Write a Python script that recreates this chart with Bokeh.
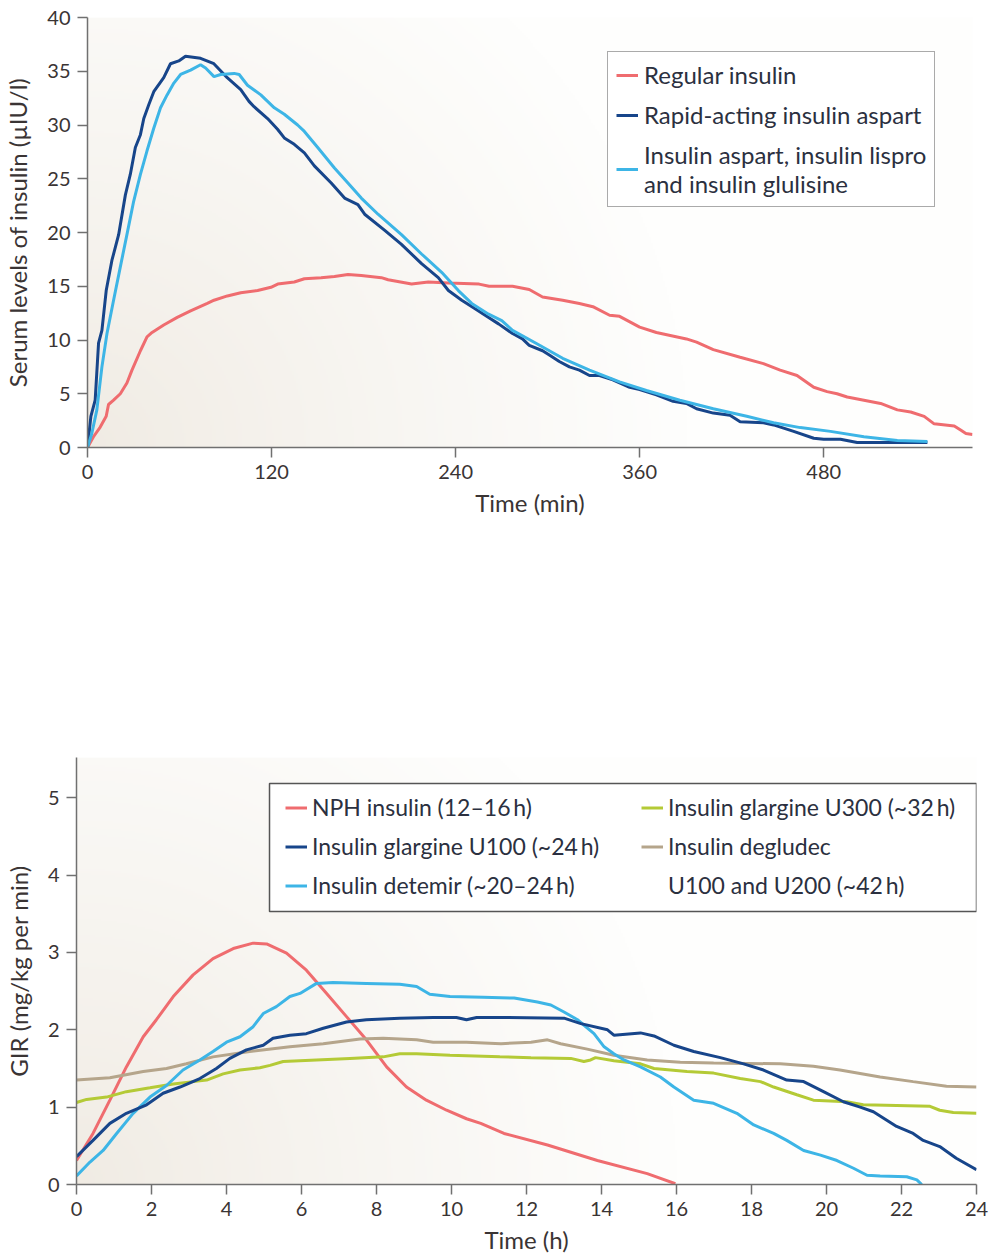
import numpy as np
from bokeh.plotting import figure
from bokeh.models import Legend, LegendItem, Range1d, FixedTicker, BoxAnnotation
from bokeh.layouts import column, row
from bokeh.embed import file_html
from bokeh.resources import INLINE

# ---------------- Top chart data (time in min, serum insulin µIU/l) ----------------
regular_t = [0, 3.9, 8.3, 12.2, 13.7, 17, 21.4, 25.7, 29, 34.5, 38.8, 42.1, 49.7, 58.5, 67.2, 78.1,
             82.5, 91.2, 99.9, 110.9, 119.6, 124, 134.8, 141.4, 152.3, 161, 169.8, 178.5, 191.6, 196,
             211.3, 222.2, 235.3, 255.3, 261.8, 277.1, 288, 296.7, 309.8, 320.7, 329.5, 340.4, 346.9,
             360, 370.9, 390.5, 397.1, 408, 425.5, 440.7, 451.6, 462.6, 473.5, 482.2, 488.7, 495.3,
             506.2, 517.1, 528, 536.7, 545.5, 552, 565.1, 569.5, 572.7, 577]
regular_v = [0, 1.0, 1.9, 2.9, 4.0, 4.4, 5.0, 6.0, 7.2, 9.0, 10.3, 10.7, 11.4, 12.1, 12.7, 13.4,
             13.7, 14.1, 14.4, 14.6, 14.9, 15.2, 15.4, 15.7, 15.8, 15.9, 16.1, 16.0, 15.8, 15.6,
             15.2, 15.4, 15.3, 15.2, 15.0, 15.0, 14.7, 14.0, 13.7, 13.4, 13.1, 12.3, 12.2,
             11.2, 10.7, 10.1, 9.8, 9.1, 8.4, 7.8, 7.2, 6.7, 5.6, 5.2, 5.0, 4.7,
             4.4, 4.1, 3.5, 3.3, 2.9, 2.2, 2.0, 1.6, 1.3, 1.2]

aspart_t = [0, 2.2, 5, 7.2, 9.4, 12.2, 15.9, 20.3, 24.7, 27.9, 31.2, 34.5, 36.7, 40, 43.2, 49.7,
            54.1, 59.5, 63.9, 73.7, 82.4, 91.1, 99.9, 105.3, 108.6, 117.4, 123.9, 128.3, 134.8,
            141.4, 147.9, 158.9, 167.6, 176.3, 180.7, 193.8, 204.7, 217.8, 228.7, 235.3, 244,
            252.7, 261.5, 268, 277.1, 283.6, 288, 296.7, 301.1, 307.6, 314.2, 320.7, 327.3, 333.8,
            342.5, 353.5, 360, 370.9, 381.8, 390.5, 397.1, 408, 418.9, 425.5, 440.7, 447.3, 460.4,
            473.5, 480, 490.9, 501.8, 547.6]
aspart_v = [0, 2.9, 4.4, 9.7, 10.9, 14.6, 17.4, 19.8, 23.5, 25.4, 27.9, 29.1, 30.6, 31.9, 33.1, 34.4,
            35.7, 35.96, 36.4, 36.2, 35.7, 34.4, 33.3, 32.2, 31.7, 30.6, 29.6, 28.8, 28.2,
            27.4, 26.2, 24.6, 23.2, 22.6, 21.7, 20.2, 18.9, 17.1, 15.8, 14.6, 13.7,
            12.9, 12.1, 11.5, 10.6, 10.1, 9.5, 9.0, 8.6, 8.0, 7.5, 7.2, 6.7, 6.7,
            6.3, 5.6, 5.4, 4.9, 4.3, 4.1, 3.6, 3.2, 3.0, 2.4, 2.3, 2.1, 1.5,
            0.86, 0.77, 0.77, 0.46, 0.46]

analog_t = [0, 2.8, 6.1, 9.4, 12.7, 17, 21.4, 25.7, 30.1, 34.5, 38.8, 43.2, 47.6, 51.9, 56.3, 60.7,
            67.2, 73.7, 77, 82.5, 86.8, 95.6, 98.9, 104.3, 113, 121.8, 128.3, 137, 141.4, 150.1,
            161, 169.8, 178.5, 189.4, 204.7, 217.8, 230.9, 241.8, 250.5, 261.5, 270.1, 277.1,
            292.4, 309.8, 327.3, 346.9, 364.4, 386.2, 408, 429.8, 447.3, 464.7, 484.4, 506.2,
            528, 547.6]
analog_v = [0, 1.3, 3.5, 7.5, 10.6, 13.7, 16.8, 19.8, 22.9, 25.4, 27.6, 29.7, 31.6, 32.8, 33.9, 34.7,
            35.1, 35.6, 35.3, 34.5, 34.7, 34.8, 34.7, 33.7, 32.8, 31.6, 31.0, 30.0, 29.4, 27.9,
            26.0, 24.6, 23.2, 21.7, 19.8, 18.0, 16.3, 14.6, 13.4, 12.4, 11.8, 10.9,
            9.7, 8.3, 7.2, 6.1, 5.3, 4.4, 3.6, 2.9, 2.3, 1.85, 1.5, 1.0,
            0.65, 0.56]

top_x_ticks = [0, 120, 240, 360, 480]
top_y_ticks = [0, 5, 10, 15, 20, 25, 30, 35, 40]

# ---------------- Bottom chart data (time in h, GIR mg/kg per min) ----------------
nph_t = [0, 0.44, 0.89, 1.33, 1.78, 2.13, 2.58, 3.11, 3.64, 4.18, 4.71, 5.07, 5.6, 6.13, 6.67, 7.2,
         7.73, 8.27, 8.8, 9.33, 9.87, 10.4, 10.78, 11.4, 12.56, 13.89, 15.22, 15.97]
nph_v = [0.31, 0.66, 1.09, 1.52, 1.91, 2.13, 2.43, 2.71, 2.92, 3.05, 3.12, 3.11, 2.99, 2.77, 2.47, 2.17,
         1.87, 1.52, 1.26, 1.09, 0.96, 0.85, 0.79, 0.66, 0.51, 0.31, 0.14, 0.01]

u100_t = [0, 0.44, 0.89, 1.33, 1.87, 2.31, 2.76, 3.29, 3.73, 4.09, 4.53, 4.98, 5.24, 5.69, 6.13, 6.58,
          7.2, 7.73, 8.62, 9.51, 10.13, 10.4, 10.67, 11.29, 13.0, 13.45, 14.16, 14.33, 15.04, 15.4,
          15.93, 16.46, 17.17, 17.79, 18.32, 18.94, 19.39, 19.92, 20.45, 20.9, 21.25, 21.87, 22.31,
          22.58, 23.02, 23.46, 24.0]
u100_v = [0.36, 0.57, 0.79, 0.92, 1.03, 1.18, 1.26, 1.37, 1.5, 1.63, 1.74, 1.8, 1.89, 1.93, 1.95, 2.02,
          2.1, 2.13, 2.15, 2.16, 2.16, 2.13, 2.16, 2.16, 2.15, 2.08, 2.0, 1.93, 1.96, 1.92,
          1.8, 1.72, 1.64, 1.56, 1.48, 1.35, 1.33, 1.2, 1.07, 1.0, 0.94, 0.75, 0.66,
          0.57, 0.49, 0.34, 0.19]

detemir_t = [0, 0.36, 0.71, 1.07, 1.51, 1.96, 2.4, 2.84, 3.29, 3.64, 4.0, 4.36, 4.71, 4.98, 5.33, 5.69,
             5.96, 6.4, 6.84, 7.73, 8.62, 9.07, 9.42, 9.96, 10.84, 11.67, 12.29, 12.65, 13.0, 13.36,
             13.8, 14.07, 14.33, 14.6, 15.04, 15.57, 15.93, 16.46, 16.99, 17.61, 18.06, 18.59, 18.94,
             19.39, 19.84, 20.28, 20.72, 21.08, 21.43, 22.14, 22.41, 22.54]
detemir_v = [0.11, 0.29, 0.44, 0.66, 0.92, 1.13, 1.28, 1.48, 1.61, 1.72, 1.84, 1.91, 2.04, 2.21, 2.3, 2.43,
             2.47, 2.6, 2.61, 2.6, 2.59, 2.56, 2.46, 2.43, 2.42, 2.41, 2.36, 2.32, 2.23, 2.13,
             1.95, 1.78, 1.69, 1.61, 1.52, 1.39, 1.26, 1.09, 1.05, 0.92, 0.77, 0.66, 0.57,
             0.44, 0.38, 0.31, 0.21, 0.12, 0.11, 0.1, 0.06, 0.0]

u300_t = [0, 0.27, 0.8, 1.33, 1.96, 2.58, 3.11, 3.47, 3.91, 4.36, 4.89, 5.16, 5.51, 6.4, 7.29, 8.18,
          8.62, 9.07, 9.96, 11.29, 12.12, 13.18, 13.53, 13.71, 13.84, 14.33, 15.04, 15.4, 16.28,
          16.99, 17.7, 18.24, 18.59, 19.21, 19.65, 20.54, 20.98, 22.76, 23.02, 23.38, 24.0]
u300_v = [1.06, 1.1, 1.13, 1.2, 1.25, 1.3, 1.33, 1.35, 1.43, 1.48, 1.51, 1.54, 1.59, 1.61, 1.63, 1.65,
          1.69, 1.69, 1.67, 1.65, 1.64, 1.63, 1.59, 1.61, 1.64, 1.6, 1.56, 1.5, 1.46,
          1.44, 1.37, 1.33, 1.26, 1.16, 1.09, 1.07, 1.03, 1.01, 0.96, 0.93, 0.92]

degludec_t = [0, 0.89, 1.78, 2.4, 2.93, 3.64, 4.62, 5.69, 6.58, 7.56, 8.18, 9.07, 9.51, 10.4, 11.32,
              12.12, 12.56, 12.91, 13.62, 14.33, 15.22, 16.1, 16.99, 18.77, 19.65, 20.36, 21.43,
              22.31, 23.2, 24.0]
degludec_v = [1.35, 1.38, 1.46, 1.5, 1.56, 1.65, 1.72, 1.78, 1.82, 1.88, 1.89, 1.87, 1.84, 1.84, 1.82,
              1.84, 1.87, 1.82, 1.75, 1.67, 1.61, 1.58, 1.57, 1.56, 1.53, 1.48, 1.39,
              1.33, 1.27, 1.26]

bot_x_ticks = list(range(0, 25, 2))
bot_y_ticks = [0, 1, 2, 3, 4, 5]

# ---------------- styling ----------------
FONT = "Lato"
RED = "#ef6c6f"
NAVY = "#17458a"
LIGHT = "#3db5e6"
GREEN = "#b4ca36"
TAN = "#b5a58b"
TEXT = "#3a3434"
LEGTEXT = "#2b3040"
AXIS = "#707070"
BORDER = "#555555"


def gradient_rgba(nx, ny, w_px, h_px):
    xs = (np.arange(nx) + 0.5) / nx * w_px
    ys = (np.arange(ny) + 0.5) / ny * h_px
    X, Y = np.meshgrid(xs, ys)
    d = np.sqrt(X ** 2 + Y ** 2)
    t = np.clip(d / 600.0, 0, 1) ** 0.85
    c0 = np.array([240, 235, 227], dtype=float)
    c1 = np.array([254, 254, 253], dtype=float)
    r = (c0[0] * (1 - t) + c1[0] * t).astype(np.uint32)
    g = (c0[1] * (1 - t) + c1[1] * t).astype(np.uint32)
    b = (c0[2] * (1 - t) + c1[2] * t).astype(np.uint32)
    img = (255 << 24) | (b << 16) | (g << 8) | r
    return img.astype(np.uint32)


def style(p, xticks, yticks, xlabel, ylabel, ystand):
    p.outline_line_color = None
    p.xgrid.visible = False
    p.ygrid.visible = False
    p.background_fill_color = "white"
    p.border_fill_color = "white"
    for ax in (p.xaxis[0], p.yaxis[0]):
        ax.axis_line_color = AXIS
        ax.axis_line_width = 1.5
        ax.major_tick_line_color = AXIS
        ax.major_tick_line_width = 1.5
        ax.major_tick_in = 0
        ax.major_tick_out = 10
        ax.minor_tick_line_color = None
        ax.major_label_text_font = FONT
        ax.major_label_text_font_size = "20px"
        ax.major_label_text_color = TEXT
        ax.major_label_standoff = 7
        ax.axis_label_text_font = FONT
        ax.axis_label_text_font_size = "24px"
        ax.axis_label_text_font_style = "normal"
        ax.axis_label_text_color = TEXT
    p.xaxis[0].ticker = FixedTicker(ticks=xticks)
    p.yaxis[0].ticker = FixedTicker(ticks=yticks)
    p.xaxis[0].axis_label = xlabel
    p.yaxis[0].axis_label = ylabel
    p.xaxis[0].axis_label_standoff = 6
    p.yaxis[0].axis_label_standoff = ystand


def style_legend(leg, size, lh, spacing, padding, boxed):
    leg.label_text_font = FONT
    leg.label_text_font_size = size
    leg.label_text_color = LEGTEXT
    leg.glyph_width = 22
    leg.glyph_height = lh
    leg.label_height = lh
    leg.label_standoff = 5
    leg.spacing = spacing
    leg.padding = padding
    leg.margin = 0
    if boxed:
        leg.border_line_color = BORDER
        leg.border_line_width = 1.5
        leg.background_fill_color = "white"
        leg.background_fill_alpha = 1
    else:
        leg.border_line_color = None
        leg.background_fill_alpha = 0


# ---------------- top figure ----------------
p1 = figure(frame_width=885, frame_height=430, min_border_left=87, min_border_right=22,
            min_border_top=17, min_border_bottom=73, output_backend="svg", toolbar_location=None,
            x_range=Range1d(0, 577), y_range=Range1d(0, 40))
p1.image_rgba(image=[gradient_rgba(443, 215, 885, 430)], x=0, y=0, dw=577, dh=40)
r_reg = p1.line(regular_t, regular_v, line_color=RED, line_width=3)
r_asp = p1.line(aspart_t, aspart_v, line_color=NAVY, line_width=3)
r_ana = p1.line(analog_t, analog_v, line_color=LIGHT, line_width=3)
style(p1, top_x_ticks, top_y_ticks, "Time (min)", "Serum levels of insulin (µIU/l)", 12)

leg1 = Legend(items=[
    LegendItem(label="Regular insulin", renderers=[r_reg]),
    LegendItem(label="Rapid-acting insulin aspart", renderers=[r_asp]),
    LegendItem(label="Insulin aspart, insulin lispro\nand insulin glulisine", renderers=[r_ana]),
], location=(520, 240))
style_legend(leg1, "24px", 24, 11, 8, True)
leg1.label_standoff = 6
p1.add_layout(leg1)

# ---------------- bottom figure ----------------
p2 = figure(frame_width=900, frame_height=427, min_border_left=76, min_border_right=18,
            min_border_top=37, min_border_bottom=76, output_backend="svg", toolbar_location=None,
            x_range=Range1d(0, 24), y_range=Range1d(0, 5.52))
p2.image_rgba(image=[gradient_rgba(450, 214, 900, 427)], x=0, y=0, dw=24, dh=5.52)
r_nph = p2.line(nph_t, nph_v, line_color=RED, line_width=3)
r_deg = p2.line(degludec_t, degludec_v, line_color=TAN, line_width=3)
r_u300 = p2.line(u300_t, u300_v, line_color=GREEN, line_width=3)
r_det = p2.line(detemir_t, detemir_v, line_color=LIGHT, line_width=3)
r_u100 = p2.line(u100_t, u100_v, line_color=NAVY, line_width=3)
r_blank = p2.line([], [], line_alpha=0)
style(p2, bot_x_ticks, bot_y_ticks, "Time (h)", "GIR (mg/kg per min)", 12)

# legend frame (decorative box behind the two legend columns)
p2.add_layout(BoxAnnotation(left=5.147, right=24, bottom=3.529, top=5.184,
                            fill_color="white", fill_alpha=1,
                            line_color=BORDER, line_width=1.5, line_alpha=1))

leg2a = Legend(items=[
    LegendItem(label="NPH insulin (12–16\u2009h)", renderers=[r_nph]),
    LegendItem(label="Insulin glargine U100 (~24\u2009h)", renderers=[r_u100]),
    LegendItem(label="Insulin detemir (~20–24\u2009h)", renderers=[r_det]),
], location=(209, 285))
style_legend(leg2a, "23px", 23, 11, 11, False)
p2.add_layout(leg2a)

leg2b = Legend(items=[
    LegendItem(label="Insulin glargine U300 (~32\u2009h)", renderers=[r_u300]),
    LegendItem(label="Insulin degludec", renderers=[r_deg]),
    LegendItem(label="U100 and U200 (~42\u2009h)", renderers=[r_blank]),
], location=(565, 285))
style_legend(leg2b, "23px", 23, 11, 11, False)
p2.add_layout(leg2b)

layout = column(row(p1), row(p2), spacing=200)
open("out.html", "w").write(file_html(layout, INLINE))
